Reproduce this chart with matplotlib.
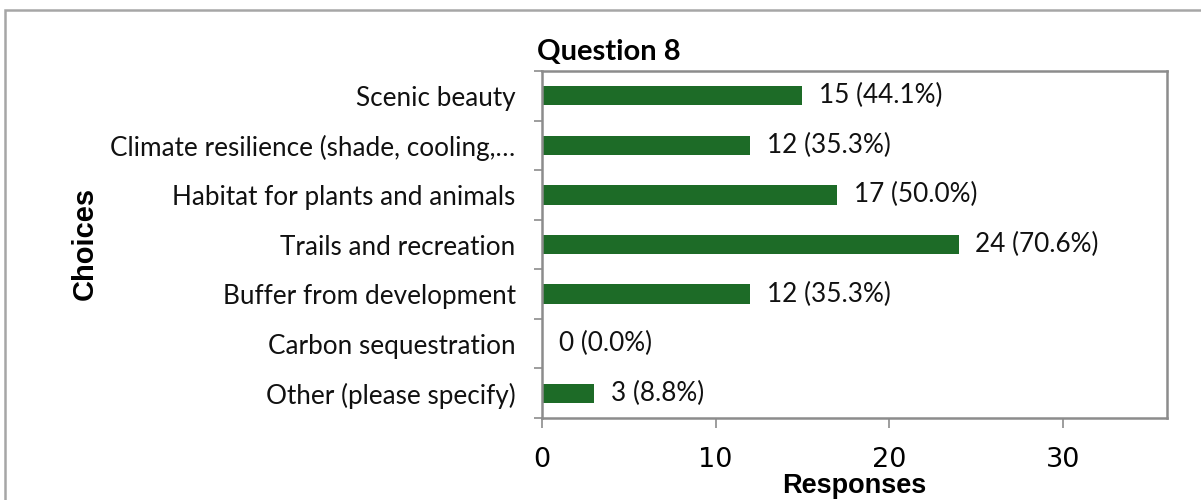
import matplotlib
matplotlib.use("Agg")
import matplotlib.pyplot as plt
from matplotlib.patches import Rectangle
from matplotlib.ticker import FixedLocator

# data (top to bottom)
choices = [
    "Scenic beauty",
    "Climate resilience (shade, cooling,\u2026",
    "Habitat for plants and animals",
    "Trails and recreation",
    "Buffer from development",
    "Carbon sequestration",
    "Other (please specify)",
]
responses = [15, 12, 17, 24, 12, 0, 3]
percents = [44.1, 35.3, 50.0, 70.6, 35.3, 0.0, 8.8]

bar_color = "#1d6b27"
grey = "#8c8c8c"
label_font = ["Lato", "DejaVu Sans"]

fig = plt.figure(figsize=(12.01, 5.0), dpi=100)
ax = fig.add_axes([0.4513, 0.164, 0.5204, 0.694])

# outer frame of the chart area (runs off the right / bottom edge)
fig.patches.append(Rectangle((5 / 1201, -0.2), 1.2, 1.18, transform=fig.transFigure,
                             fill=False, edgecolor="#a6a6a6", linewidth=1.8))

ypos = list(range(len(choices)))
ax.barh(ypos, responses, height=0.39, color=bar_color)

for y, v, p in zip(ypos, responses, percents):
    ax.annotate(f"{v} ({p:.1f}%)", xy=(v, y), xytext=(12, 0), textcoords="offset points",
                va="center", ha="left", fontsize=18.8, family=label_font, color="#111111")

ax.set_xlim(0, 36)
ax.set_ylim(len(choices) - 0.5, -0.5)

ax.set_yticks(ypos)
ax.set_yticklabels(choices, fontsize=18.8, family=label_font, color="#111111")
ax.yaxis.set_minor_locator(FixedLocator([i - 0.5 for i in range(len(choices) + 1)]))
ax.tick_params(axis="y", which="major", length=0, pad=19)
ax.tick_params(axis="y", which="minor", length=6, width=1.2, color=grey, direction="out")

ax.set_xticks([0, 10, 20, 30])
ax.tick_params(axis="x", which="major", length=7, width=1.2, color=grey, pad=14,
               labelsize=19.5)

for s in ax.spines.values():
    s.set_color(grey)
    s.set_linewidth(1.8)

ax.set_xlabel("Responses", fontsize=19.5, fontweight="bold", family="Liberation Sans")
ax.xaxis.set_label_coords((542 + 1167) / 2 / 1201, 1 - 493 / 500, transform=fig.transFigure)
ax.xaxis.label.set_va("baseline")

ax.set_ylabel("Choices", fontsize=21, fontweight="bold", family="Liberation Sans")
ax.yaxis.set_label_coords(85 / 1201, 1 - 243 / 500, transform=fig.transFigure)
ax.yaxis.label.set_va("center")

fig.text(537 / 1201, 1 - 52 / 500, "Question 8", fontsize=21, fontweight="bold",
         family=label_font, ha="left", va="center")

fig.savefig("out.png", dpi=100)
